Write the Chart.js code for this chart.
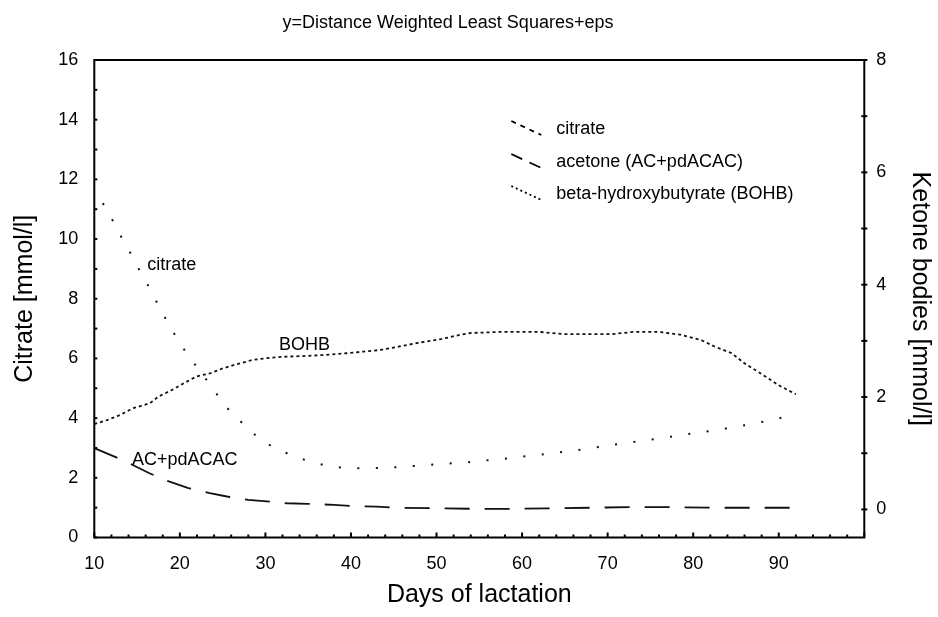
<!DOCTYPE html>
<html>
<head>
<meta charset="utf-8">
<script src="https://cdn.jsdelivr.net/npm/chart.js@4.4.1/dist/chart.umd.min.js"></script>
<style>
  body { margin: 0; background: #fff; }
  #wrap { width: 938px; height: 617px; position: relative; }
</style>
</head>
<body>
<div id="wrap"><canvas id="chart"></canvas></div>
<script>
// citrate, left axis [mmol/l]
const citrateDays = [11, 12, 13, 14, 15, 16, 17, 18, 19, 20, 21.5, 24, 25, 26.5, 28, 29.5, 31.5, 33.5, 35.5, 37.5, 39.5, 41.5, 44, 46, 48, 50, 52, 54, 56, 58, 60, 62, 64, 66, 68, 70, 72, 74, 76, 78, 80, 82, 84, 86, 88, 90, 91.5];
const citrateValues = [11.2, 10.7, 10.15, 9.65, 9.1, 8.6, 8.05, 7.5, 7.0, 6.5, 5.9, 4.95, 4.5, 4.05, 3.65, 3.25, 2.95, 2.7, 2.52, 2.38, 2.33, 2.32, 2.33, 2.37, 2.41, 2.45, 2.49, 2.53, 2.59, 2.64, 2.71, 2.77, 2.84, 2.91, 2.99, 3.08, 3.16, 3.24, 3.32, 3.4, 3.49, 3.57, 3.66, 3.76, 3.87, 3.99, 4.1];

// acetone (AC+pdACAC), right axis [mmol/l]
const acetoneDays = [10, 12.5, 14.5, 16.5, 18.5, 21, 23.5, 25.5, 28, 30.5, 32.5, 35, 38, 40, 43, 45, 50, 54.5, 59, 63.5, 68, 72.5, 77.5, 82, 86.5, 91.5];
const acetoneValues = [1.09, 0.93, 0.79, 0.64, 0.51, 0.38, 0.29, 0.23, 0.17, 0.14, 0.11, 0.1, 0.08, 0.06, 0.05, 0.03, 0.02, 0.01, 0.01, 0.02, 0.03, 0.04, 0.04, 0.03, 0.03, 0.03];

// beta-hydroxybutyrate (BOHB), right axis [mmol/l]
const bohbDays = [10, 11.5, 13, 14.5, 16.5, 17.5, 19, 20.5, 22, 23.5, 25, 27, 28.5, 30.5, 32.5, 34.5, 37, 39.5, 41.5, 43.5, 46, 48, 50.5, 52.5, 54, 57.5, 62, 65, 70.5, 73, 76, 78.5, 81, 82.5, 84.5, 86, 88, 90, 92];
const bohbValues = [1.52, 1.59, 1.68, 1.8, 1.89, 2.01, 2.12, 2.25, 2.37, 2.42, 2.51, 2.6, 2.66, 2.7, 2.72, 2.73, 2.75, 2.78, 2.81, 2.84, 2.91, 2.97, 3.03, 3.1, 3.14, 3.16, 3.16, 3.12, 3.12, 3.16, 3.16, 3.11, 3.01, 2.9, 2.78, 2.6, 2.41, 2.21, 2.05];

const xTickLabels = [10, 20, 30, 40, 50, 60, 70, 80, 90];
const leftTickLabels = [0, 2, 4, 6, 8, 10, 12, 14, 16];
const rightTickLabels = [0, 2, 4, 6, 8];

const seriesNames = ['citrate', 'acetone (AC+pdACAC)', 'beta-hydroxybutyrate (BOHB)'];
const inlineLabels = [
  { text: 'citrate', day: 16.2, value: 9.13 },
  { text: 'BOHB', day: 31.6, value: 6.45 },
  { text: 'AC+pdACAC', day: 14.4, value: 2.6 }
];

const FONT = "'Liberation Sans', Arial, sans-serif";
Chart.defaults.font.family = FONT;
Chart.defaults.color = '#000';

function toPoints(days, values) {
  return days.map((d, i) => ({ x: d, y: values[i] }));
}

const legendDash = [[5, 5], [12, 8], [2, 3]];

const decorations = {
  id: 'decorations',
  afterDatasetsDraw(chart) {
    const { ctx, chartArea: a, scales } = chart;
    ctx.save();
    ctx.strokeStyle = '#000';
    ctx.lineWidth = 2;
    // tick marks (inside the frame)
    scales.x.ticks.forEach(t => {
      const px = scales.x.getPixelForValue(t.value);
      const len = t.value % 10 === 0 ? 5 : 3;
      ctx.beginPath(); ctx.moveTo(px, a.bottom); ctx.lineTo(px, a.bottom - len); ctx.stroke();
    });
    scales.y.ticks.forEach(t => {
      const py = scales.y.getPixelForValue(t.value);
      ctx.beginPath(); ctx.moveTo(a.left, py); ctx.lineTo(a.left + 3, py); ctx.stroke();
    });
    scales.y1.ticks.forEach(t => {
      if (t.value < 0) return;
      const py = scales.y1.getPixelForValue(t.value);
      ctx.beginPath(); ctx.moveTo(a.right - 3, py); ctx.lineTo(a.right + 3, py); ctx.stroke();
    });
    ctx.strokeRect(a.left, a.top, a.right - a.left, a.bottom - a.top);

    // title
    ctx.fillStyle = '#000';
    ctx.font = '18px ' + FONT;
    ctx.textAlign = 'center';
    ctx.textBaseline = 'middle';
    ctx.fillText('y=Distance Weighted Least Squares+eps', 448, 23);

    // labels next to the curves
    ctx.textAlign = 'left';
    inlineLabels.forEach(l => {
      ctx.fillText(l.text, scales.x.getPixelForValue(l.day), scales.y.getPixelForValue(l.value));
    });

    // legend
    const lx = a.left + 417;
    const rows = [a.top + 69, a.top + 102, a.top + 134];
    chart.data.datasets.forEach((ds, i) => {
      ctx.lineWidth = 1.8;
      ctx.setLineDash(legendDash[i]);
      ctx.beginPath();
      ctx.moveTo(lx, rows[i] - 8);
      ctx.lineTo(lx + 30, rows[i] + 6);
      ctx.stroke();
      ctx.setLineDash([]);
      ctx.fillText(seriesNames[i], a.left + 462, rows[i]);
    });
    ctx.restore();
  }
};

new Chart(document.getElementById('chart').getContext('2d'), {
  type: 'line',
  data: {
    datasets: [
      {
        label: seriesNames[0],
        data: toPoints(citrateDays, citrateValues),
        yAxisID: 'y',
        borderColor: '#111',
        borderWidth: 2,
        borderDash: [2, 16.5],
        pointRadius: 0,
        fill: false
      },
      {
        label: seriesNames[1],
        data: toPoints(acetoneDays, acetoneValues),
        yAxisID: 'y1',
        borderColor: '#111',
        borderWidth: 1.8,
        borderDash: [25, 15],
        pointRadius: 0,
        fill: false
      },
      {
        label: seriesNames[2],
        data: toPoints(bohbDays, bohbValues),
        yAxisID: 'y1',
        borderColor: '#111',
        borderWidth: 1.8,
        borderDash: [3, 3],
        pointRadius: 0,
        fill: false
      }
    ]
  },
  options: {
    responsive: true,
    maintainAspectRatio: false,
    animation: false,
    layout: { padding: { top: 60, left: 0, right: 0, bottom: 0 } },
    plugins: { legend: { display: false }, tooltip: { enabled: false } },
    scales: {
      x: {
        type: 'linear',
        min: 10,
        max: 100,
        grid: { display: false, drawTicks: false },
        border: { display: false },
        ticks: {
          stepSize: 2,
          autoSkip: false,
          maxRotation: 0,
          padding: 16,
          font: { size: 18 },
          callback: v => xTickLabels.includes(v) ? String(v) : ''
        },
        title: { display: true, text: 'Days of lactation', font: { size: 25 }, padding: { top: 0, bottom: 7 } },
        afterFit: s => { s.height = 79.5; }
      },
      y: {
        position: 'left',
        min: 0,
        max: 16,
        grid: { display: false, drawTicks: false },
        border: { display: false },
        ticks: {
          stepSize: 1,
          autoSkip: false,
          padding: 16,
          font: { size: 18 },
          callback: v => leftTickLabels.includes(v) ? String(v) : ''
        },
        title: { display: true, text: 'Citrate [mmol/l]', font: { size: 25 }, padding: { top: 10 } },
        afterFit: s => { s.width = 94.3; }
      },
      y1: {
        position: 'right',
        min: -0.5,
        max: 8,
        grid: { display: false, drawTicks: false },
        border: { display: false },
        ticks: {
          stepSize: 1,
          autoSkip: false,
          padding: 12,
          font: { size: 18 },
          callback: v => rightTickLabels.includes(v) ? String(v) : ''
        },
        title: { display: true, text: 'Ketone bodies [mmol/l]', font: { size: 25 }, padding: { top: 3 } },
        afterFit: s => { s.width = 73.7; }
      }
    }
  },
  plugins: [decorations]
});
</script>
</body>
</html>
